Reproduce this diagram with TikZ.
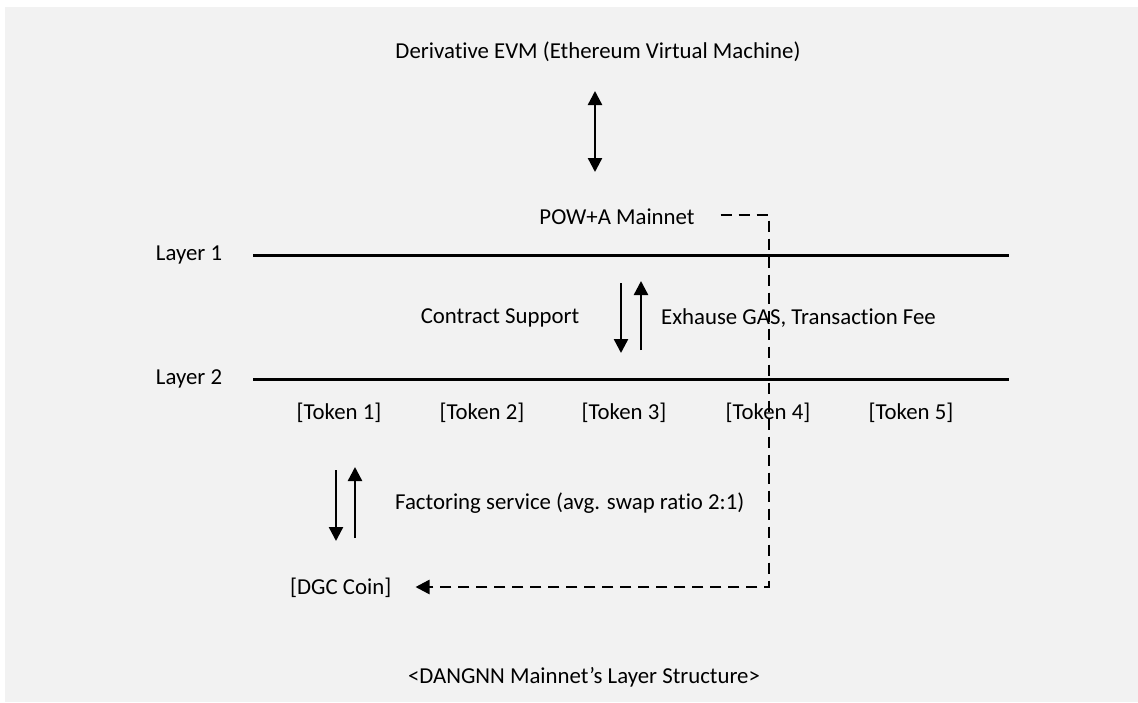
\documentclass[tikz,border=0pt]{standalone}
\usepackage{fontspec}
\setmainfont[Ligatures=NoCommon]{Carlito}
\usetikzlibrary{arrows.meta}
\definecolor{bg}{HTML}{F2F2F2}
\tikzset{
  lbl/.style={font=\fontsize{22.8}{25}\selectfont, inner sep=0pt, text=black},
  layerline/.style={line width=3pt},
  arr/.style={line width=2.4pt, -{Triangle[length=14pt,width=14pt]}},
  darr/.style={line width=2.4pt, {Triangle[length=14pt,width=14pt]}-{Triangle[length=14pt,width=14pt]}},
  dashline/.style={line width=2.5pt, dash pattern=on 11pt off 7pt, -{Triangle[length=14pt,width=14pt]}}
}
\begin{document}
\begin{tikzpicture}[x=1pt,y=-1pt]
\useasboundingbox (0,0) rectangle (1138,702);
\fill[bg] (5,7) rectangle (1138,702);

\node[lbl] (evm) at (598,52) {Derivative EVM (Ethereum Virtual Machine)};
\node[lbl] (pow) at (617,217) {POW+A Mainnet};
\node[lbl] (l1) at (189,255) {Layer 1};
\node[lbl] (l2) at (189,379) {Layer 2};
\node[lbl] (cs) at (500,318) {Contract Support};
\node[lbl, anchor=west] (gas) at (661,318) {Exhause GAS, Transaction Fee};
\node[lbl] (t1) at (339,413) {[Token 1]};
\node[lbl] (t2) at (482,413) {[Token 2]};
\node[lbl] (t3) at (624,413) {[Token 3]};
\node[lbl] (t4) at (768,413) {[Token 4]};
\node[lbl] (t5) at (911,413) {[Token 5]};
\node[lbl, anchor=west] (fs) at (395,503) {Factoring service (avg. swap ratio 2:1)};
\node[lbl, anchor=west] (dgc) at (290,588) {[DGC Coin]};
\node[lbl] (cap) at (584,677) {<DANGNN Mainnet’s Layer Structure>};

% layer lines
\coordinate (l1a) at (253,255); \coordinate (l1b) at (1009,255);
\coordinate (l2a) at (253,379); \coordinate (l2b) at (1009,379);
\draw[layerline] (l1a) -- (l1b);
\draw[layerline] (l2a) -- (l2b);

% EVM <-> POW
\coordinate (e1) at (595,91); \coordinate (e2) at (595,172);
\draw[darr] (e1) -- (e2);

% contract support arrows
\coordinate (c1) at (621,283); \coordinate (c2) at (621,353);
\coordinate (c3) at (641,350); \coordinate (c4) at (641,281);
\draw[arr] (c1) -- (c2);
\draw[arr] (c3) -- (c4);

% factoring arrows
\coordinate (f1) at (336,470); \coordinate (f2) at (336,541);
\coordinate (f3) at (355,538); \coordinate (f4) at (355,467);
\draw[arr] (f1) -- (f2);
\draw[arr] (f3) -- (f4);

% dashed connector
\coordinate (k1) at (769,215);
\coordinate (k2) at (769,587);
\draw[dashline, shorten <=26pt, shorten >=24pt] (pow.east |- k1) -- (k1) -- (k2) -- (dgc.east |- k2);
\end{tikzpicture}
\end{document}
